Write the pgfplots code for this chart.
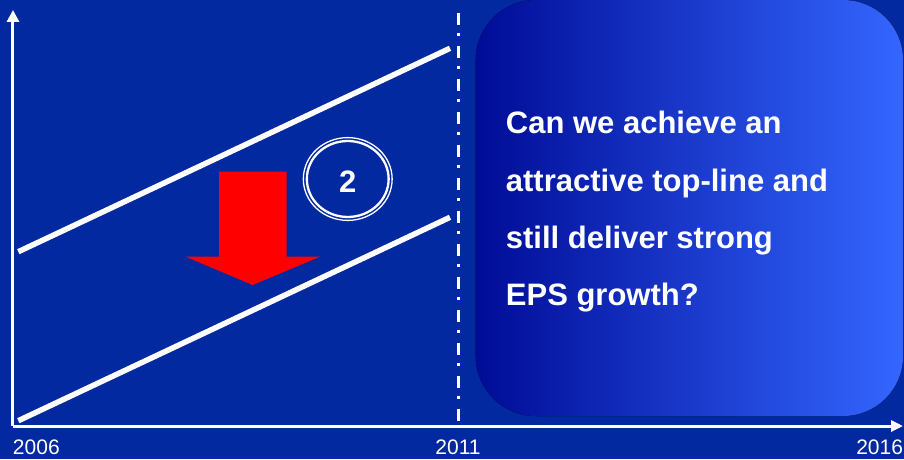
\documentclass[border=0pt]{standalone}
\usepackage{pgfplots}
\pgfplotsset{compat=1.18}
\usepackage{fontspec}
\setmainfont{Liberation Sans}
\usetikzlibrary{arrows.meta,backgrounds}
\definecolor{bg}{RGB}{2,41,160}
\definecolor{gl}{RGB}{0,12,150}
\definecolor{gr}{RGB}{52,102,255}
\begin{document}
\begin{tikzpicture}
\begin{axis}[
  width=890bp, height=416bp, scale only axis,
  xmin=2006, xmax=2016, ymin=0, ymax=416,
  enlargelimits=false, clip=false,
  axis x line=bottom, axis y line=left,
  axis line style={white, line width=3bp},
  x axis line style={-{Triangle[length=12bp,width=11bp]}},
  y axis line style={-{Triangle[length=12bp,width=12bp]}},
  xtick={2006,2011,2016},
  xticklabels={\makebox[0pt][l]{2006},2011,\makebox[0pt][r]{2016}},
  ytick=\empty,
  major tick length=0pt,
  xticklabel style={text=white, anchor=north, inner sep=0pt, yshift=-14bp,
    font=\fontsize{21bp}{25bp}\selectfont},
  no markers,
]
% rounded gradient box
\fill[left color=gl, right color=gr, rounded corners=60bp]
  (axis cs:2011.199,10) rectangle (axis cs:2016.0,426);
% trend lines
\addplot[white, line width=5.5bp] coordinates {(2006.06,174.3) (2010.91,377.7)};
\addplot[white, line width=5.5bp] coordinates {(2006.06,5.3) (2010.91,208.7)};
% divider 2011
\addplot[white, line width=3bp, dash pattern=on 12bp off 8bp on 3bp off 10bp]
  coordinates {(2011,413.3) (2011,5.3)};
% red arrow
\addplot[fill=red, draw=none] coordinates {
  (2008.315,254.3) (2009.075,254.3) (2009.075,169.3) (2009.449,169.3)
  (2008.693,141) (2007.940,169.3) (2008.315,169.3)} -- cycle;
% circled 2
\draw[white, line width=1.3bp] (axis cs:2009.761,247) ellipse [x radius=44.4bp, y radius=41.4bp];
\draw[white, line width=2.3bp] (axis cs:2009.761,247) ellipse [x radius=40.9bp, y radius=38bp];
\node[text=white, font=\fontsize{31bp}{31bp}\selectfont\bfseries, inner sep=0pt]
  at (axis cs:2009.761,244.3) {2};
% text
\begin{scope}[every node/.style={anchor=base west, inner sep=0pt, text=white,
   font=\fontsize{31bp}{36bp}\selectfont\bfseries}]
\node at (axis cs:2011.536,292) {Can we achieve an};
\node at (axis cs:2011.536,234.3) {attractive top-line and};
\node at (axis cs:2011.536,177.7) {still deliver strong};
\node at (axis cs:2011.536,121) {EPS growth?};
\end{scope}
\coordinate (F1) at (axis cs:2005.854,-33);
\coordinate (F2) at (axis cs:2016.011,426);
\end{axis}
\pgfresetboundingbox
\path[use as bounding box] (F1) rectangle (F2);
\begin{scope}[on background layer]
\fill[bg] (F1) rectangle (F2);
\end{scope}
\end{tikzpicture}
\end{document}
